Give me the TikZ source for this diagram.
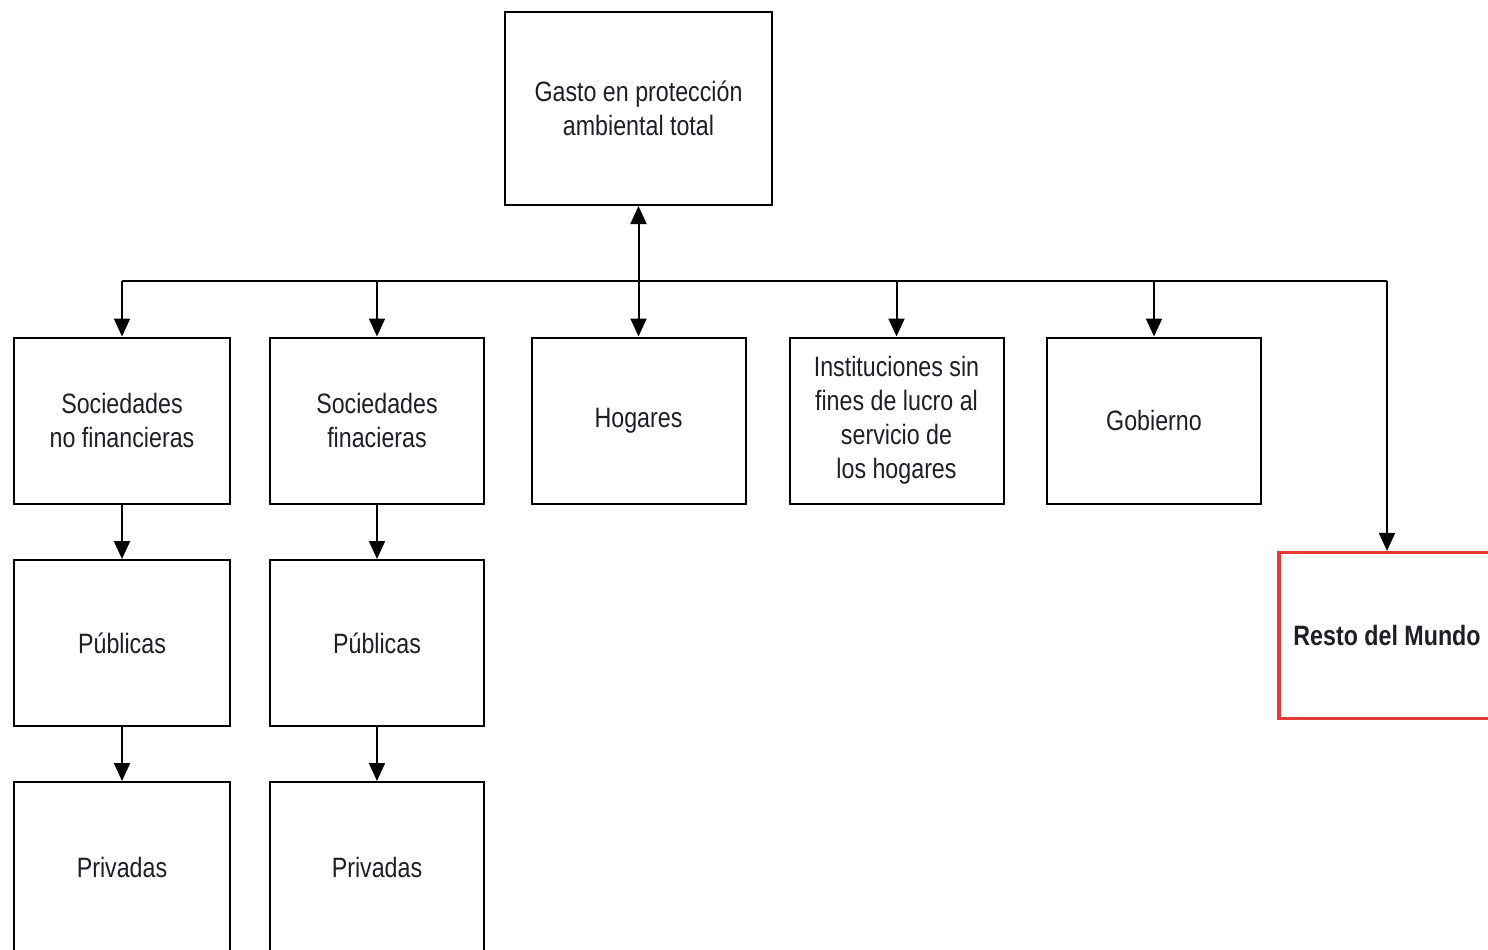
\documentclass[tikz,border=0pt]{standalone}
\usepackage{fontspec}
\setmainfont[FakeStretch=0.83]{Liberation Sans}
\usetikzlibrary{arrows.meta}
\definecolor{rojo}{RGB}{229,57,53}
\definecolor{texto}{RGB}{30,30,40}

\begin{document}
\begin{tikzpicture}[
    x=0.5pt, y=-0.5pt,
    >={Triangle[width=8pt,length=9pt]},
    every node/.style={font=\fontsize{14}{17}\selectfont, text=texto, align=center},
    caja/.style={rectangle, draw, line width=1pt, minimum width=107pt, minimum height=83pt, inner sep=2pt},
    cajaroja/.style={caja, draw=rojo, line width=1.6pt, font=\fontsize{14}{17}\selectfont\bfseries},
    flecha/.style={->, line width=1pt}
]
\useasboundingbox (0,0) rectangle (1488,949);

\node[caja, minimum width=133.5pt, minimum height=96.5pt] (total) at (638.5,108.5) {Gasto en protección\\ambiental total};

% primer nivel
\node[caja, minimum width=108pt] (snf)  at (122,420.5)   {Sociedades\\no financieras};
\node[caja] (sf)   at (377,420.5)   {Sociedades\\finacieras};
\node[caja] (hog)  at (638.5,420.5) {Hogares};
\node[caja] (isfl) at (896.5,420.5) {Instituciones sin\\fines de lucro al\\servicio de\\los hogares};
\node[caja] (gob)  at (1154,420.5)  {Gobierno};
\node[cajaroja, minimum width=108pt] (rdm) at (1387,635.5) {Resto del Mundo};

% segundo y tercer nivel
\node[caja, minimum width=108pt] (snfpub)  at (122,643)   {Públicas};
\node[caja] (sfpub)   at (377,643)   {Públicas};
\node[caja, minimum width=108pt, minimum height=85pt] (snfpriv) at (122,867) {Privadas};
\node[caja, minimum height=85pt] (sfpriv)  at (377,867)   {Privadas};

\coordinate (busL) at (122,281);
\coordinate (busR) at (1387,281);

\draw[line width=1pt] (busL) -- (busR);
\draw[flecha, <->] (total.south) -- (hog.north);
\draw[flecha] (busL) -- (snf.north);
\draw[flecha] (sf.north |- busL) -- (sf.north);
\draw[flecha] (isfl.north |- busL) -- (isfl.north);
\draw[flecha] (gob.north |- busL) -- (gob.north);
\draw[flecha] (busR) -- (rdm.north);

\draw[flecha] (snf.south) -- (snfpub.north);
\draw[flecha] (snfpub.south) -- (snfpriv.north);
\draw[flecha] (sf.south) -- (sfpub.north);
\draw[flecha] (sfpub.south) -- (sfpriv.north);
\end{tikzpicture}
\end{document}
